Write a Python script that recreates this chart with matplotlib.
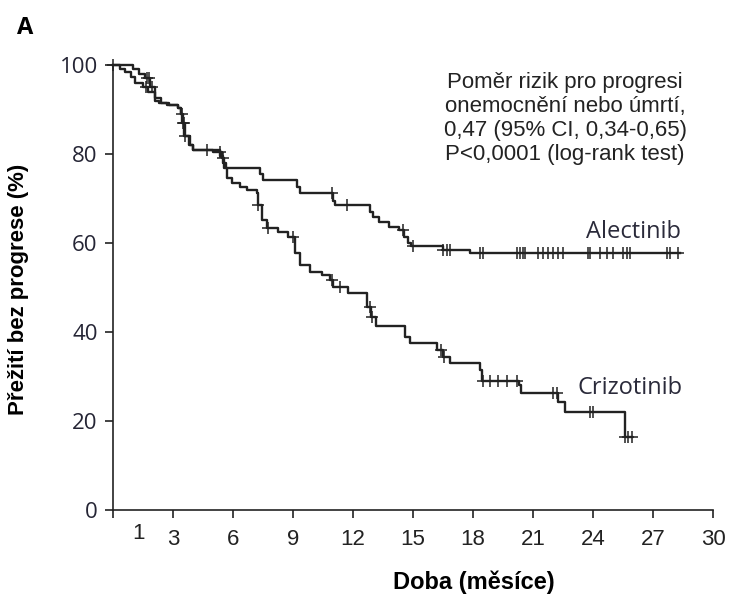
import matplotlib
matplotlib.use("Agg")
import matplotlib.pyplot as plt
import numpy as np

# Kaplan-Meier odhady (cas v mesicich, preziti v %)
alec_t = [0, 1.0, 1.3, 1.6, 1.85, 2.1, 2.4, 2.7, 3.25, 3.4, 3.5, 3.6, 3.85, 4.0,
          5.35, 5.5, 5.65, 7.35, 7.5, 9.2, 9.35, 11.0, 11.1, 12.85, 13.0, 13.3,
          13.8, 14.3, 14.55, 14.75, 14.9, 16.5, 17.85, 28.35]
alec_s = [100, 99, 98, 97, 95, 92.6, 91.5, 91, 90.3, 89, 87, 84, 82, 81,
          79.5, 78, 76.9, 75.5, 74.2, 72.5, 71.2, 69.5, 68.5, 67, 65.8, 64.7,
          63.6, 62.9, 61.3, 60, 59.3, 58.4, 57.75, 57.75]
alec_cens = [0, 1.7, 1.8, 1.95, 3.45, 3.55, 4.7, 10.95, 11.7, 14.5, 15.0, 16.5,
             16.7, 16.85, 18.35, 18.5, 20.2, 20.35, 20.5, 20.6, 21.25, 21.5,
             21.75, 22.0, 22.25, 22.5, 23.75, 23.85, 24.35, 24.7, 25.0, 25.5,
             25.7, 25.85, 27.7, 27.85, 28.25]

criz_t = [0, 0.35, 0.6, 0.9, 1.1, 1.5, 1.75, 2.1, 2.3, 2.8, 3.25, 3.4, 3.45,
          3.55, 3.8, 4.0, 5.0, 5.45, 5.55, 5.7, 5.95, 6.35, 6.7, 7.2, 7.25,
          7.45, 7.7, 8.25, 8.75, 9.1, 9.35, 9.85, 10.45, 10.85, 11.0, 11.75,
          12.7, 12.9, 13.15, 14.6, 14.85, 16.2, 16.5, 16.85, 18.35, 18.45,
          20.3, 20.4, 22.25, 22.6, 25.6, 25.95]
criz_s = [100, 99.2, 98.4, 97.2, 96, 95, 94, 92, 91.5, 91, 90.3, 89, 87,
          84, 82, 81, 80.5, 79, 76.9, 74.6, 73.5, 72.6, 71.9, 71.2, 68.5,
          65.2, 63.4, 62.5, 61.3, 57.8, 55, 53.5, 52.8, 51.7, 50.1, 48.8,
          45.6, 43.4, 41.4, 38.9, 37.5, 36, 34.4, 33.1, 31.5, 29.06,
          28.1, 26.2, 24.3, 22, 16.5, 16.5]
criz_cens = [1.65, 3.5, 3.6, 5.35, 5.5, 7.25, 7.75, 9.0, 10.95, 11.35, 12.85,
             12.95, 16.4, 16.55, 18.5, 18.85, 19.25, 19.7, 20.2, 22.0, 22.2,
             23.85, 24.0, 25.6, 25.75, 25.95]

xticks = [0, 3, 6, 9, 12, 15, 18, 21, 24, 27, 30]
xtick_labels = ['', '3', '6', '9', '12', '15', '18', '21', '24', '27', '30']
yticks = [0, 20, 40, 60, 80, 100]

ink = '#222222'
narrow = ['Liberation Sans Narrow', 'Liberation Sans', 'DejaVu Sans']
human = ['Open Sans', 'DejaVu Sans']


def km_value(t_steps, s_steps, t):
    idx = np.searchsorted(t_steps, t, side='right') - 1
    return np.array(s_steps)[idx]


fig = plt.figure(figsize=(7.32, 5.95), dpi=100)
ax = fig.add_axes([113 / 732, 1 - 510 / 595, 600 / 732, 445 / 595])

for t, s, c in [(alec_t, alec_s, alec_cens), (criz_t, criz_s, criz_cens)]:
    ax.step(t, s, where='post', color=ink, lw=1.7, clip_on=False)
    ax.plot(c, km_value(t, s, c), ls='none', marker='+', ms=8, mew=1.1,
            color=ink, clip_on=False)

ax.set_xlim(0, 30)
ax.set_ylim(0, 100)
ax.spines['top'].set_visible(False)
ax.spines['right'].set_visible(False)
for sp in ['left', 'bottom']:
    ax.spines[sp].set_linewidth(1.2)
    ax.spines[sp].set_color(ink)

ax.set_xticks(xticks)
ax.set_xticklabels(xtick_labels, family=narrow, fontsize=16, color=ink)
ax.set_yticks(yticks)
ax.set_yticklabels([str(v) for v in yticks], family=human, fontsize=16,
                   color='#252535')
ax.tick_params(axis='both', direction='out', length=6, width=1.2, color=ink)
ax.tick_params(axis='x', pad=8)
ax.tick_params(axis='y', pad=5)

# osamocena popiska "1" bez ticku
ax.text(1.25, -3.0, '1', family=narrow, fontsize=16, color=ink,
        ha='center', va='top')

ax.set_xlabel('Doba (měsíce)', family=narrow, fontsize=17, fontweight='bold',
              color='black')
ax.xaxis.set_label_coords((474 - 113) / 600, -0.135)
ax.set_ylabel('Přežití bez progrese (%)', family=narrow, fontsize=16,
              fontweight='bold', color='black')
ax.yaxis.set_label_coords(-0.14, 0.495)

ax.text(22.6, 98.5, 'Poměr rizik pro progresi\nonemocnění nebo úmrtí,\n'
        '0,47 (95% CI, 0,34-0,65)\nP<0,0001 (log-rank test)',
        family=['Liberation Sans', 'DejaVu Sans'], fontsize=16, color=ink,
        ha='center', va='top', linespacing=1.2)

ax.text(26.0, 62.5, 'Alectinib', family=human, fontsize=17, color='#2a2a3a',
        ha='center', va='center')
ax.text(25.85, 27.4, 'Crizotinib', family=human, fontsize=17, color='#2a2a3a',
        ha='center', va='center')

fig.text(25 / 732, 1 - 28 / 595, 'A', family=human, fontsize=17,
         fontweight='bold', color='black', ha='center', va='center')

fig.savefig('out.png', dpi=100)
